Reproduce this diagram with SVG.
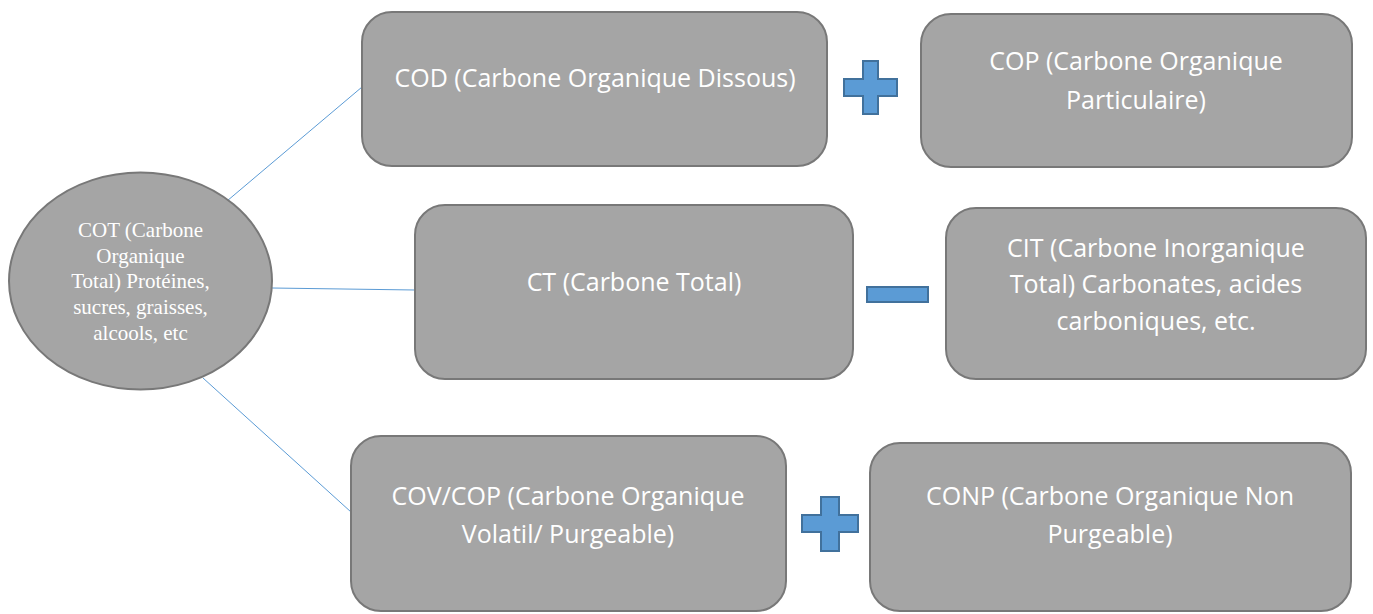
<svg xmlns="http://www.w3.org/2000/svg" width="1373" height="614" viewBox="0 0 1373 614">
<style>
.box{fill:#a5a5a5;stroke:#787878;stroke-width:2}
.t{fill:#ffffff;font-family:"Open Sans","Liberation Sans",sans-serif;font-size:25px;text-anchor:middle}
.e{fill:#ffffff;font-family:"Liberation Serif",serif;font-size:21px;text-anchor:middle}
.op{fill:#5b9bd5;stroke:#41719c;stroke-width:2}
.ln{stroke:#5b9bd5;stroke-width:1;fill:none}
</style>
<rect width="1373" height="614" fill="#ffffff"/>
<g id="connectors">
<line class="ln" x1="227" y1="201" x2="362" y2="87"/>
<line class="ln" x1="272" y1="288" x2="415" y2="290"/>
<line class="ln" x1="203" y1="378" x2="351" y2="512"/>
</g>
<g id="cot">
<ellipse class="box" cx="140.5" cy="281" rx="131.5" ry="108.5"/>
<text class="e" x="140.5" y="237">COT (Carbone</text>
<text class="e" x="140.5" y="263">Organique</text>
<text class="e" x="140.5" y="288">Total) Protéines,</text>
<text class="e" x="140.5" y="314">sucres, graisses,</text>
<text class="e" x="140.5" y="340">alcools, etc</text>
</g>
<g id="cod">
<rect class="box" x="362" y="12" width="465" height="154" rx="30"/>
<text class="t" x="595" y="87">COD (Carbone Organique Dissous)</text>
</g>
<g id="cop">
<rect class="box" x="921" y="14" width="431" height="153" rx="30"/>
<text class="t" x="1136" y="70">COP (Carbone Organique</text>
<text class="t" x="1136" y="109">Particulaire)</text>
</g>
<g id="ct">
<rect class="box" x="415" y="205" width="438" height="174" rx="30"/>
<text class="t" x="634" y="291">CT (Carbone Total)</text>
</g>
<g id="cit">
<rect class="box" x="946" y="208" width="420" height="171" rx="30"/>
<text class="t" x="1156" y="257">CIT (Carbone Inorganique</text>
<text class="t" x="1156" y="293">Total) Carbonates, acides</text>
<text class="t" x="1156" y="330">carboniques, etc.</text>
</g>
<g id="cov">
<rect class="box" x="351" y="436" width="435" height="175" rx="30"/>
<text class="t" x="568" y="505">COV/COP (Carbone Organique</text>
<text class="t" x="568" y="543">Volatil/ Purgeable)</text>
</g>
<g id="conp">
<rect class="box" x="870" y="443" width="481" height="168" rx="30"/>
<text class="t" x="1110" y="505">CONP (Carbone Organique Non</text>
<text class="t" x="1110" y="543">Purgeable)</text>
</g>
<g id="plus1">
<path class="op" d="M863,61 h15 v18 h19 v17 h-19 v18 h-15 v-18 h-19 v-17 h19 z"/>
</g>
<g id="minus">
<rect class="op" x="867" y="287" width="61" height="15"/>
</g>
<g id="plus2">
<path class="op" d="M821,497 h18 v18 h19 v17 h-19 v19 h-18 v-19 h-19 v-17 h19 z"/>
</g>
</svg>
